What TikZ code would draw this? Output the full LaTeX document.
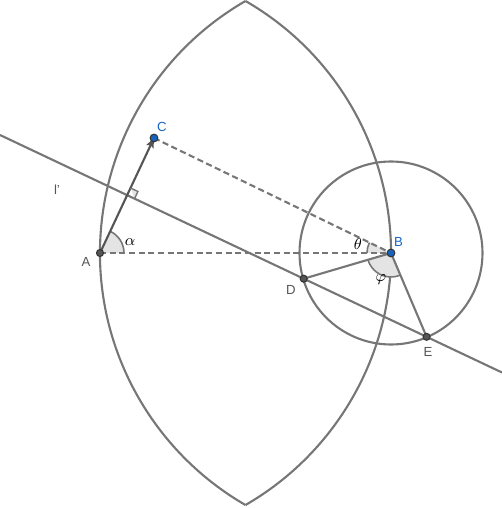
\documentclass[tikz,border=0pt]{standalone}
\usepackage{fontspec}
\setmainfont{Liberation Sans}
\usetikzlibrary{calc,angles,arrows.meta}
\definecolor{linegray}{RGB}{118,118,118}
\definecolor{ptgray}{RGB}{85,85,85}
\definecolor{ggblue}{RGB}{21,101,192}
\definecolor{anglefill}{RGB}{228,228,228}

\begin{document}
\begin{tikzpicture}[x=0.02cm,y=0.02cm,>=stealth,line width=1.2pt,
	every node/.style={font=\fontsize{7.5}{9}\selectfont,text=ptgray,inner sep=0pt},
	greek/.style={font=\fontsize{9.5}{10}\selectfont,text=black},
	dashline/.style={linegray,dash pattern=on 3.5pt off 2pt},
	anglemark/.style={draw=linegray,fill=anglefill,line width=0.9pt,angle radius=0.48cm}]
	\useasboundingbox (0,0) rectangle (502,508);
	\coordinate (A) at (100,255);
	\coordinate (B) at (391,255);
	\coordinate (C) at (154,370);
	\coordinate (D) at (303.7,229.3);
	\coordinate (E) at (426.6,171.2);
	\coordinate (T) at (245.5,507);
	\coordinate (L1) at (0,373);
	\coordinate (L2) at (502,135.5);
	\coordinate (F) at ($(D)!(A)!(E)$);
	% lens
	\draw[linegray] (T) arc[start angle=60,end angle=-60,radius=291];
	\draw[linegray] (T) arc[start angle=120,end angle=240,radius=291];
	% circle round B
	\draw[linegray] (B) circle[radius=91.5];
	% line l'
	\draw[linegray] (L1) -- (L2);
	% angles
	\pic[anglemark] {angle=B--A--C};
	\pic[anglemark] {angle=C--B--A};
	\pic[anglemark] {angle=D--B--E};
	% dashed segments
	\draw[dashline] (A) -- (B);
	\draw[dashline] (C) -- (B);
	% segments
	\draw[linegray] (B) -- (D);
	\draw[linegray] (B) -- (E);
	\draw[ptgray,-{Stealth[length=5.5pt,width=4.5pt,inset=1pt]}] (A) -- (C);
	% right angle
	\coordinate (F1) at ($(F)!0.16cm!(C)$);
	\coordinate (F2) at ($(F)!0.16cm!(E)$);
	\draw[linegray,fill=anglefill,line width=0.8pt] (F1) -- ($(F1)+(F2)-(F)$) -- (F2);
	% points
	\foreach \p in {A,D,E}
		\draw[fill=ptgray,draw=black!80,line width=0.6pt] (\p) circle(2pt);
	\foreach \p in {B,C}
		\draw[fill=ggblue,draw=black!80,line width=0.6pt] (\p) circle(2.2pt);
	% labels
	\node (lA) at (86,246) {A};
	\node[text=ggblue] (lB) at (398.5,266) {B};
	\node[text=ggblue] (lC) at (162,381) {C};
	\node (lD) at (291,218) {D};
	\node (lE) at (428,156) {E};
	\node (ll) at (57,318) {l'};
	\node[greek] (la) at (130,266) {$\alpha$};
	\node[greek] (lt) at (358,264) {$\theta$};
	\node[greek] (lp) at (381,228) {$\varphi$};
\end{tikzpicture}
\end{document}
